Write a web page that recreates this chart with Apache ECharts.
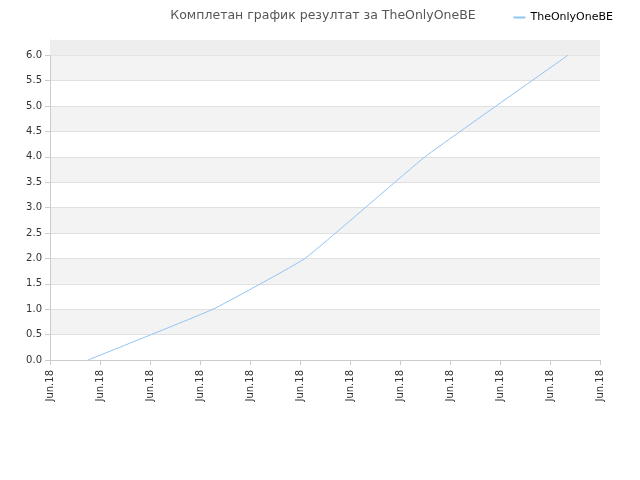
<!DOCTYPE html><html><head><meta charset="utf-8"><script src="https://cdn.jsdelivr.net/npm/echarts@6/dist/echarts.min.js"></script></head><body style="margin:0"><div id="c" style="width:640px;height:480px"></div><script>
const xLabels=["Jun.18","Jun.18","Jun.18","Jun.18","Jun.18","Jun.18","Jun.18","Jun.18","Jun.18","Jun.18","Jun.18","Jun.18"];
const xs=[0.76,3.26,5.1,7.5,10.36];
const ys=[0,1,2,4,6];
const ch=echarts.init(document.getElementById('c'));
ch.setOption({
title:{text:'Комплетан график резултат за TheOnlyOneBE',left:318,top:4,textAlign:'center',textStyle:{fontSize:12.5,fontWeight:'normal',color:'#555',fontFamily:'DejaVu Sans'}},
legend:{right:22,top:7,itemWidth:12,itemHeight:2,textStyle:{fontSize:11,color:'#000',fontFamily:'DejaVu Sans'},data:['TheOnlyOneBE'],icon:'rect'},
grid:{left:50,right:40,top:40,bottom:120},
xAxis:{type:'value',min:0,max:11,interval:1,axisLine:{lineStyle:{color:'#ccc'}},axisTick:{show:true,lineStyle:{color:'#ccc'}},splitLine:{show:false},
axisLabel:{rotate:90,margin:10,fontSize:10,color:'#333',fontFamily:'DejaVu Sans',formatter:(v)=>xLabels[Math.round(v)]}},
yAxis:{type:'value',min:0,max:6.3,interval:0.5,axisLine:{show:true,lineStyle:{color:'#ccc'}},axisLabel:{fontSize:10,color:'#333',fontFamily:'DejaVu Sans',formatter:v=>v.toFixed(1),showMaxLabel:false},
splitLine:{lineStyle:{color:'#e0e0e0'}},splitArea:{show:true,areaStyle:{color:['#fff','#f3f3f3']}}},
series:[{name:'TheOnlyOneBE',type:'line',data:xs.map((x,i)=>[x,ys[i]]),showSymbol:false,smooth:0.1,lineStyle:{width:1,color:'#90c4f4'},itemStyle:{color:'#90c4f4'},
markArea:{silent:true,itemStyle:{color:'#eeeeee'},data:[[{yAxis:6},{yAxis:6.3}]]}}]
});
</script></body></html>
